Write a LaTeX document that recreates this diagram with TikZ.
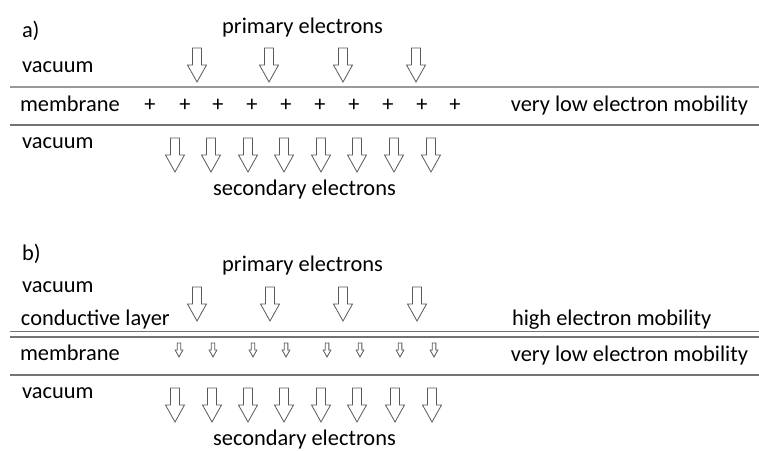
\documentclass[tikz,border=0pt]{standalone}
\usepackage{fontspec}
\setmainfont{Carlito}
\begin{document}
\begin{tikzpicture}[x=0.75pt,y=-0.75pt,
  lbl/.style={inner sep=0pt,outer sep=0pt,text=black,font=\fontsize{16.8}{20}\selectfont},
  layerline/.style={draw=black!55,line width=1.3pt},
  arrowline/.style={draw=black!65,line width=0.6pt,fill=white},
  pics/blockarrow/.style={code={
    \draw[arrowline] (-4.5,0) -- (4.5,0) -- (4.5,17) -- (9.5,17) -- (0,34)
      -- (-9.5,17) -- (-4.5,17) -- cycle;}}]
\useasboundingbox (0,0) rectangle (759,450);

% ---------------- a) ----------------
\node[lbl,anchor=base west] (la) at (22,37.5) {a)};
\node[lbl,anchor=base] (pa) at (302.5,33) {primary electrons};
\node[lbl,anchor=base west] (va1) at (22,72.5) {vacuum};
\node[lbl,anchor=base west] (ma) at (20,111.5) {membrane};
\node[lbl,anchor=base east] (mobA) at (748,111.5) {very low electron mobility};
\node[lbl,anchor=base west] (va2) at (22,148.5) {vacuum};
\node[lbl,anchor=base] (sa) at (304.5,195.5) {secondary electrons};

\coordinate (a1l) at (10,87); \coordinate (a1r) at (759,87);
\coordinate (a2l) at (10,125); \coordinate (a2r) at (759,125);
\draw[layerline,draw=black!40] (a1l) -- (a1r);
\draw[layerline] (a2l) -- (a2r);

\foreach \x in {197,269,343,416} \pic at (\x,48) {blockarrow};
\foreach \x in {150,185,218,252,286,320,354,388,422,455}
  \node[lbl,anchor=base] at (\x,111.5) {+};
\foreach \x in {175,211,248,284,321,357,394,431} \pic at (\x,138) {blockarrow};

% ---------------- b) ----------------
\node[lbl,anchor=base west] (lb) at (22,260) {b)};
\node[lbl,anchor=base] (pb) at (302.5,271.5) {primary electrons};
\node[lbl,anchor=base west] (vb1) at (22,292.5) {vacuum};
\node[lbl,anchor=base west] (cb) at (21,325) {conductive layer};
\node[lbl,anchor=base west] (mobH) at (512,325) {high electron mobility};
\node[lbl,anchor=base west] (mb) at (20,360.5) {membrane};
\node[lbl,anchor=base east] (mobB) at (748,361) {very low electron mobility};
\node[lbl,anchor=base west] (vb2) at (22,398.5) {vacuum};
\node[lbl,anchor=base] (sb) at (304.5,445) {secondary electrons};

\coordinate (b1l) at (10,331.5); \coordinate (b1r) at (759,331.5);
\coordinate (b2l) at (10,337); \coordinate (b2r) at (759,337);
\coordinate (b3l) at (10,375); \coordinate (b3r) at (759,375);
\draw[layerline] (b1l) -- (b1r);
\draw[layerline] (b2l) -- (b2r);
\draw[layerline] (b3l) -- (b3r);

\foreach \x in {197,270,343,417} \pic at (\x,287) {blockarrow};
\foreach \x in {179,213,253,286,327,360,400,434} \pic[scale=0.41] at (\x,343) {blockarrow};
\foreach \x in {175,212,248,284,321,357,395,432} \pic at (\x,388) {blockarrow};
\end{tikzpicture}
\end{document}
